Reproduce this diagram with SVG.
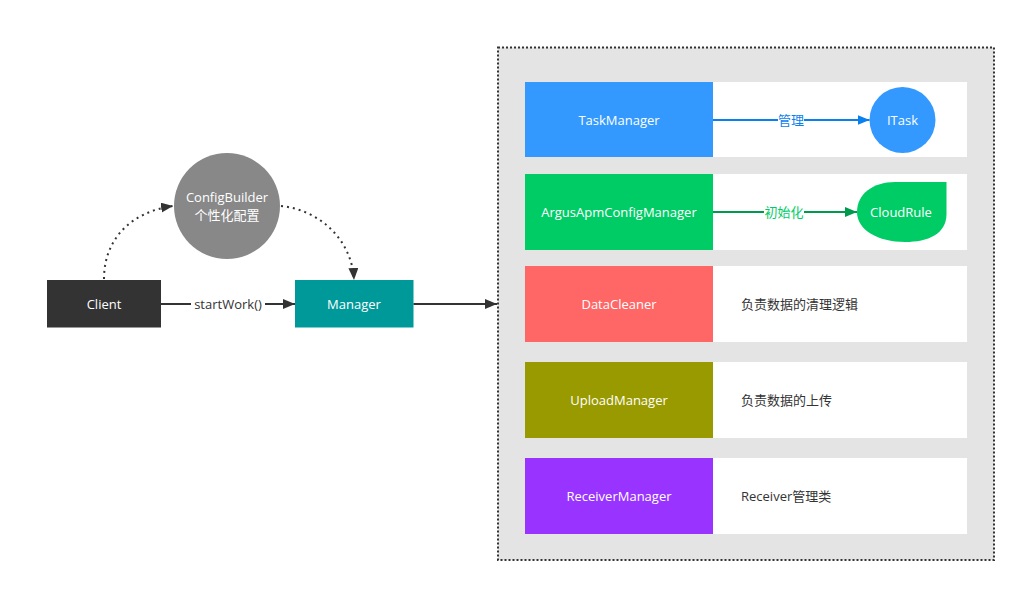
<svg xmlns="http://www.w3.org/2000/svg" width="1025" height="592" viewBox="0 0 1025 592">
<style>
text{font-family:"Open Sans","Noto Sans CJK SC",sans-serif;font-size:13px;text-anchor:middle;dominant-baseline:central}
.w{fill:#ffffff}
.d{fill:#333333}
.lbl{fill:#333333;text-anchor:start}
.row{fill:#ffffff}
.ln{stroke:#333333;stroke-width:2;fill:none}
.dot{stroke:#333333;stroke-width:2;fill:none;stroke-dasharray:2 4}
</style>
<defs>
<marker id="ah" viewBox="0 0 12 10" refX="12" refY="5" markerWidth="12" markerHeight="10" markerUnits="userSpaceOnUse" orient="auto"><path d="M0,0 L12,5 L0,10 Z" fill="#333333"/></marker>
<marker id="ahb" viewBox="0 0 12 10" refX="12" refY="5" markerWidth="12" markerHeight="10" markerUnits="userSpaceOnUse" orient="auto"><path d="M0,0 L12,5 L0,10 Z" fill="#0a7ff0"/></marker>
<marker id="ahg" viewBox="0 0 12 10" refX="12" refY="5" markerWidth="12" markerHeight="10" markerUnits="userSpaceOnUse" orient="auto"><path d="M0,0 L12,5 L0,10 Z" fill="#009a4e"/></marker>
</defs>
<rect width="1025" height="592" fill="#ffffff"/>
<g id="container">
<rect x="498" y="47.5" width="496" height="512.5" fill="#e4e4e4" stroke="#333333" stroke-width="2" stroke-dasharray="2 2"/>
</g>
<g id="row-taskmanager">
<rect class="row" x="525" y="82" width="442" height="75"/>
<rect x="525" y="82" width="188" height="75" fill="#3399ff"/>
<text class="w" x="619" y="119.5">TaskManager</text>
</g>
<g id="row-argus">
<rect class="row" x="525" y="174" width="442" height="76"/>
<rect x="525" y="174" width="188" height="76" fill="#00cc66"/>
<text class="w" x="619" y="211.5">ArgusApmConfigManager</text>
</g>
<g id="row-datacleaner">
<rect class="row" x="525" y="266" width="442" height="76"/>
<rect x="525" y="266" width="188" height="76" fill="#ff6666"/>
<text class="w" x="619" y="303.5">DataCleaner</text>
<text class="lbl" x="741" y="303.5">负责数据的清理逻辑</text>
</g>
<g id="row-upload">
<rect class="row" x="525" y="362" width="442" height="76"/>
<rect x="525" y="362" width="188" height="76" fill="#999900"/>
<text class="w" x="619" y="399.5">UploadManager</text>
<text class="lbl" x="741" y="399.5">负责数据的上传</text>
</g>
<g id="row-receiver">
<rect class="row" x="525" y="458" width="442" height="76"/>
<rect x="525" y="458" width="188" height="76" fill="#9933ff"/>
<text class="w" x="619" y="495.5">ReceiverManager</text>
<text class="lbl" x="741" y="495.5">Receiver管理类</text>
</g>
<g id="client">
<rect x="47" y="280" width="114" height="47.5" fill="#333333"/>
<text class="w" x="104" y="303.5">Client</text>
</g>
<g id="manager">
<rect x="295" y="280" width="118.5" height="47.5" fill="#009999"/>
<text class="w" x="354" y="303.5">Manager</text>
</g>
<g id="configbuilder">
<circle cx="227" cy="206" r="53" fill="#888888"/>
<text class="w" x="227" y="197">ConfigBuilder</text>
<text class="w" x="227" y="215">个性化配置</text>
</g>
<g id="itask">
<circle cx="902.5" cy="120" r="33" fill="#3399ff"/>
<text class="w" x="902.5" y="119.5">ITask</text>
</g>
<g id="cloudrule">
<path d="M946.5,182 L946.5,214 C946.5,234 928,242 905,242 C878,242 857,230 857,212 C857,194 873,182 895,182 Z" fill="#00cc66"/>
<text class="w" x="901" y="211.5">CloudRule</text>
</g>
<g id="connectors">
<path class="ln" d="M161,304 L295,304" marker-end="url(#ah)"/>
<rect x="191" y="296" width="74" height="16" fill="#ffffff"/>
<text class="d" x="228" y="303.5">startWork()</text>
<path class="ln" d="M413.5,304 L497,304" marker-end="url(#ah)"/>
<path class="dot" d="M104,279 C104,240 130,212 173,206" marker-end="url(#ah)"/>
<path class="dot" d="M281,206 C320,210 352,240 354,280" marker-end="url(#ah)"/>
<path d="M713,120 L869.5,120" stroke="#0a7ff0" stroke-width="2" fill="none" marker-end="url(#ahb)"/>
<rect x="778" y="112" width="26" height="16" fill="#ffffff"/>
<text x="791" y="119.5" fill="#0a7ff0">管理</text>
<path d="M713,212 L857,212" stroke="#009a4e" stroke-width="2" fill="none" marker-end="url(#ahg)"/>
<rect x="764" y="204" width="40" height="16" fill="#ffffff"/>
<text x="784" y="211.5" fill="#00cc66">初始化</text>
</g>
</svg>
